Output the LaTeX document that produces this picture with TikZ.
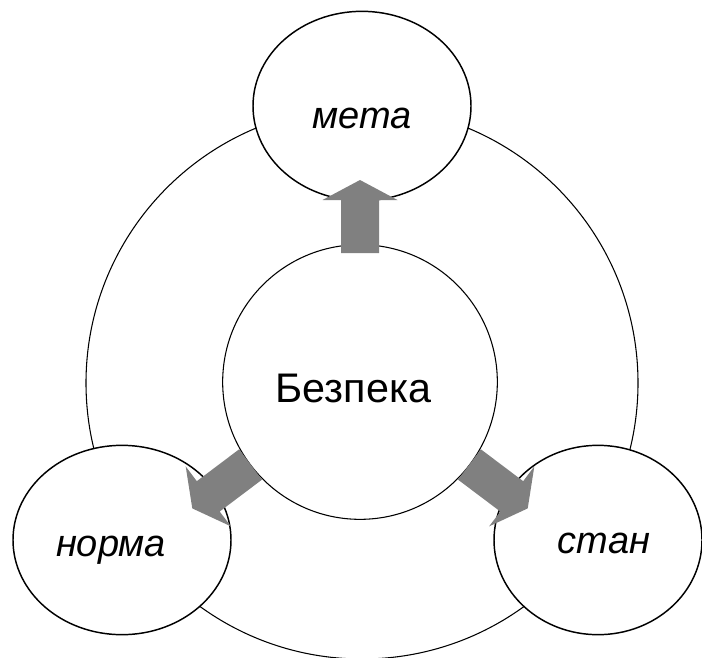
\documentclass[tikz,border=0pt]{standalone}
\usepackage{fontspec}
\setmainfont{Liberation Sans}
\usetikzlibrary{calc,shapes.geometric}
\definecolor{arrowgray}{RGB}{128,128,128}

% block arrow leaving the core: #1 angle, #2 start distance (px)
\newcommand\corearrow[2]{%
  \fill[arrowgray, shift={($(core.center)+(#1:#2*0.75pt)$)}, rotate=#1]
    (0,-19) -- (53,-19) -- (53,-37.5) -- (73,0) -- (53,37.5) -- (53,19) -- (0,19) -- cycle;}
% text set off the node centre: #1 dx, #2 baseline drop, #3 text
\newcommand\offtext[3]{\raisebox{-#2}[0pt][0pt]{\makebox[0pt]{\hspace*{#1}\hspace*{#1}#3}}}

\begin{document}
\begin{tikzpicture}[x=0.75pt,y=-0.75pt,
  aspect/.style={ellipse, draw, line width=1.1pt, fill=white, inner sep=0pt,
    minimum width=163.5pt, minimum height=142pt,
    font=\fontsize{28.5}{32}\selectfont\itshape}]
\useasboundingbox (0,0) rectangle (702,657);
\node[circle, draw, line width=0.8pt, minimum size=414pt, inner sep=0pt] (ring) at (362,383) {};
\node[circle, draw, line width=0.8pt, fill=white, minimum size=206pt, inner sep=0pt,
  font=\fontsize{31}{36}\selectfont] (core) at (360,382) {\offtext{-4.9pt}{15pt}{Безпека}};
\node[aspect] (goal) at (362,106) {\offtext{0pt}{16.5pt}{мета}};
\node[aspect] (norm) at (122,540) {\offtext{-8.25pt}{12pt}{норма}};
\node[aspect, minimum width=156pt] (state) at (598,540) {\offtext{4.5pt}{9.75pt}{стан}};
\corearrow{90}{129}
\corearrow{217}{137}
\corearrow{-37}{137}
\end{tikzpicture}
\end{document}
